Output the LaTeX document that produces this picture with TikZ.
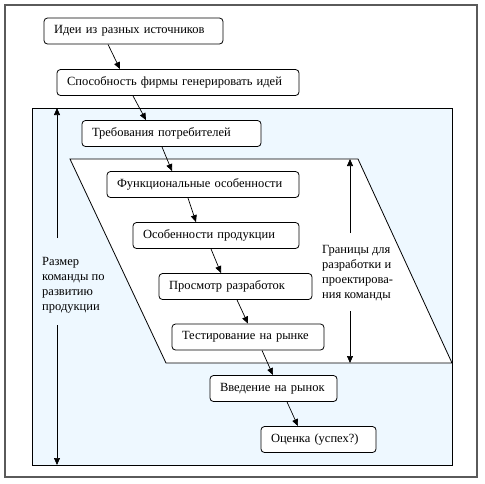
\documentclass[tikz,border=0pt]{standalone}
\usepackage{fontspec}
\setmainfont{Liberation Serif}
\newfontfamily\diagfont{Liberation Serif}
\usetikzlibrary{arrows.meta}
\definecolor{bluefill}{HTML}{EEF8FF}
\definecolor{framegray}{HTML}{5A5A5A}
\begin{document}
\begin{tikzpicture}[x=1pt,y=-1pt,
  box/.style={draw=black, line width=0.8pt, rounded corners=3.5pt, fill=white,
    minimum height=26pt, inner xsep=10pt, inner ysep=0pt, align=left,
    font=\diagfont\fontsize{12.5}{15}\selectfont},
  lbltext/.style={inner sep=0pt, anchor=north west, align=left,
    font=\diagfont\fontsize{12.5}{15}\selectfont},
  arr/.style={draw=black, line width=0.7pt, -{Triangle[length=7pt,width=6pt]}}]
\useasboundingbox (0,0) rectangle (485,483);
% outer frame
\draw[framegray, line width=1.3pt] (5,5) rectangle (477,477);
% blue area
\draw[black, line width=0.8pt, fill=bluefill] (32,108) rectangle (452,465);
% parallelogram
\draw[black, line width=0.8pt, fill=white] (70,159) -- (358,159) -- (452,363) -- (166,363) -- cycle;
% nodes
\node[box, text width=159pt] (n1) at (133.5,31) {Идеи из разных источников};
\node[box, text width=222pt] (n2) at (178,82.5) {Способность фирмы генерировать идей};
\node[box, text width=159pt] (n3) at (171.5,133.5) {Требования потребителей};
\node[box, text width=172pt] (n4) at (203,184.5) {Функциональные особенности};
\node[box, text width=146pt] (n5) at (216,235.5) {Особенности продукции};
\node[box, text width=133pt] (n6) at (235.5,286.5) {Просмотр разработок};
\node[box, text width=132pt] (n7) at (248,337) {Тестирование на рынке};
\node[box, text width=107pt] (n8) at (273.5,388.5) {Введение на рынок};
\node[box, text width=95pt] (n9) at (318.5,439.5) {Оценка (успех?)};
% connectors
\draw[arr] ([xshift=-25.5pt]n1.south) -- ([xshift=-58pt]n2.north);
\draw[arr] ([xshift=-45pt]n2.south) -- ([xshift=-25.5pt]n3.north);
\draw[arr] ([xshift=-9.5pt]n3.south) -- ([xshift=-31pt]n4.north);
\draw[arr] ([xshift=-15pt]n4.south) -- ([xshift=-20pt]n5.north);
\draw[arr] ([xshift=-5pt]n5.south) -- ([xshift=-14.5pt]n6.north);
\draw[arr] ([xshift=1.5pt]n6.south) -- ([xshift=0pt]n7.north);
\draw[arr] ([xshift=14pt]n7.south) -- ([xshift=-0.5pt]n8.north);
\draw[arr] ([xshift=13.5pt]n8.south) -- ([xshift=-20.5pt]n9.north);
% side labels
\node[lbltext] (lbl) at (42,257) {Размер\\команды по\\развитию\\продукции};
\node[lbltext] (rbl) at (322,245) {Границы для\\разработки и\\проектирова-\\ния команды};
% side arrows
\coordinate (lt) at (57,108);
\coordinate (lt2) at (57,238);
\coordinate (lb) at (57,465);
\coordinate (lb2) at (57,325);
\coordinate (rt) at (350,159);
\coordinate (rt2) at (350,233);
\coordinate (rb) at (350,363);
\coordinate (rb2) at (350,311);
\draw[arr] (lt2) -- (lt);
\draw[arr] (lb2) -- (lb);
\draw[arr] (rt2) -- (rt);
\draw[arr] (rb2) -- (rb);
\end{tikzpicture}
\end{document}
